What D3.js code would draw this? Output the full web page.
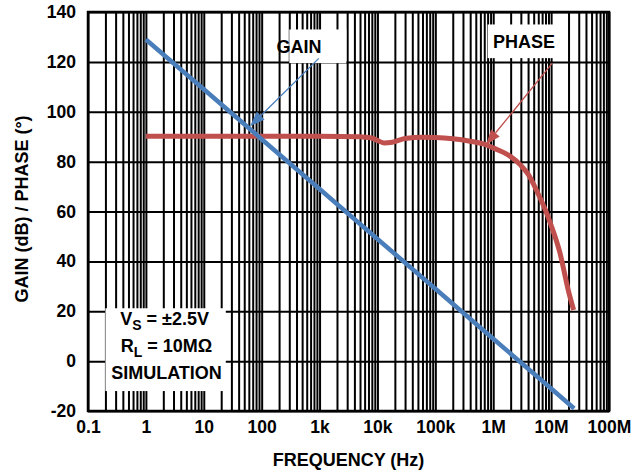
<!DOCTYPE html>
<html>
<head>
<meta charset="utf-8">
<script src="https://cdn.jsdelivr.net/npm/d3@7"></script>
<style>
  html, body { margin: 0; padding: 0; background: #fff; }
  svg { display: block; font-family: "Liberation Sans", Arial, sans-serif; font-weight: bold; }
</style>
</head>
<body>
<svg id="chart" width="644" height="470"></svg>
<script>
// gain curve (dB) vs frequency (Hz)
const gainFreq = [1, 10, 100, 1e3, 1e4, 1e5, 1e6, 1e7, 2.5e7];
const gainDb = [129, 109, 89, 69, 49, 29, 9, -11, -19];

// phase curve (deg) vs frequency (Hz)
const phaseFreq = [1, 10, 100, 1e3, 5e3, 8e3, 1e4, 1.3e4, 1.8e4, 3e4, 6e4, 1e5, 2e5, 4e5, 7e5,
  1e6, 1.5e6, 2e6, 3e6, 4e6, 6e6, 8e6, 1e7, 1.4e7, 2e7, 2.45e7];
const phaseDeg = [90.2, 90.2, 90.2, 90.2, 90, 89.5, 88.5, 87.5, 87.8, 89.3, 89.8, 89.7, 89.2, 88.2, 87,
  85.5, 83.7, 82, 78.5, 75, 67, 60.5, 54.5, 44, 28, 20.5];

const xTicks = [0.1, 1, 10, 100, 1e3, 1e4, 1e5, 1e6, 1e7, 1e8];
const xTickLabels = ['0.1', '1', '10', '100', '1k', '10k', '100k', '1M', '10M', '100M'];
const yTicks = [-20, 0, 20, 40, 60, 80, 100, 120, 140];
const yTickLabels = ['-20', '0', '20', '40', '60', '80', '100', '120', '140'];

const GAIN_BLUE = '#4a7ebb';
const PHASE_RED = '#c0504d';

const W = 644;
const H = 470;
const margin = { top: 12, right: 35, bottom: 59, left: 88 };
const innerW = W - margin.left - margin.right;
const innerH = H - margin.top - margin.bottom;

const svg = d3.select('#chart');
const g = svg.append('g').attr('transform', `translate(${margin.left},${margin.top})`);

const x = d3.scaleLog().domain([0.1, 1e8]).range([0, innerW]);
const y = d3.scaleLinear().domain([-20, 140]).range([innerH, 0]);

// every 1..9 per decade
const minor = [];
xTicks.slice(0, -1).forEach(d => {
  for (let k = 1; k <= 9; k++) minor.push(d * k);
});
minor.push(1e8);

// vertical grid
g.append('g')
  .attr('transform', `translate(0,${innerH})`)
  .call(d3.axisBottom(x).tickValues(minor).tickSize(-innerH).tickFormat(''))
  .call(a => a.select('.domain').remove())
  .call(a => a.selectAll('line').attr('stroke', '#000').attr('stroke-width', 2));

// horizontal grid
g.append('g')
  .call(d3.axisLeft(y).tickValues(yTicks).tickSize(-innerW).tickFormat(''))
  .call(a => a.select('.domain').remove())
  .call(a => a.selectAll('line').attr('stroke', '#000').attr('stroke-width', 2));

// white label boxes over grid
const boxes = [
  { f0: 0.2, f1: 24, v0: 21.2, v1: -12 },
  { f0: 300, f1: 2900, v0: 133, v1: 119.5 },
  { f0: 0.8e6, f1: 12e6, v0: 135, v1: 121.5 },
];
g.selectAll('rect.box').data(boxes).join('rect')
  .attr('class', 'box')
  .attr('x', d => x(d.f0))
  .attr('y', d => y(d.v0))
  .attr('width', d => x(d.f1) - x(d.f0))
  .attr('height', d => y(d.v1) - y(d.v0))
  .attr('fill', '#fff');

// frame
g.append('rect')
  .attr('width', innerW)
  .attr('height', innerH)
  .attr('fill', 'none')
  .attr('stroke', '#000')
  .attr('stroke-width', 2.5);

// axes labels
g.append('g')
  .attr('transform', `translate(0,${innerH})`)
  .call(d3.axisBottom(x).tickValues(xTicks).tickSize(0).tickPadding(9.6)
    .tickFormat((d, i) => xTickLabels[i]))
  .call(a => a.select('.domain').remove())
  .call(a => a.selectAll('text').attr('fill', '#000').attr('font-size', 17.5)
    .attr('font-family', null).attr('font-weight', 'bold'));

g.append('g')
  .call(d3.axisLeft(y).tickValues(yTicks).tickSize(0).tickPadding(12)
    .tickFormat((d, i) => yTickLabels[i]))
  .call(a => a.select('.domain').remove())
  .call(a => a.selectAll('text').attr('fill', '#000').attr('font-size', 17.5)
    .attr('font-family', null).attr('font-weight', 'bold'));

svg.append('text')
  .attr('x', margin.left + innerW / 2)
  .attr('y', 466)
  .attr('text-anchor', 'middle')
  .attr('font-size', 18)
  .text('FREQUENCY (Hz)');

svg.append('text')
  .attr('transform', 'translate(28,209) rotate(-90)')
  .attr('text-anchor', 'middle')
  .attr('font-size', 18)
  .text('GAIN (dB) / PHASE (°)');

// curves
const gainData = gainFreq.map((f, i) => ({ f, v: gainDb[i] }));
const phaseData = phaseFreq.map((f, i) => ({ f, v: phaseDeg[i] }));
const line = d3.line().x(d => x(d.f)).y(d => y(d.v));

g.append('path')
  .datum(phaseData)
  .attr('fill', 'none')
  .attr('stroke', PHASE_RED)
  .attr('stroke-width', 5)
  .attr('d', line.curve(d3.curveMonotoneX));

g.append('path')
  .datum(gainData)
  .attr('fill', 'none')
  .attr('stroke', GAIN_BLUE)
  .attr('stroke-width', 4.5)
  .attr('d', line.curve(d3.curveLinear));

// callouts
const callouts = [
  { text: 'GAIN', lf: 440, lv: 123.5, af: 970, av: 121.4, tf: 63, tv: 94.2, color: GAIN_BLUE },
  { text: 'PHASE', lf: 3.4e6, lv: 125.5, af: 10.5e6, av: 119.5, tf: 7.5e5, tv: 86.8, color: PHASE_RED },
];

callouts.forEach(c => {
  g.append('text')
    .attr('x', x(c.lf))
    .attr('y', y(c.lv))
    .attr('text-anchor', 'middle')
    .attr('font-size', 18)
    .text(c.text);

  const x0 = x(c.af), y0 = y(c.av), x1 = x(c.tf), y1 = y(c.tv);
  const ang = Math.atan2(y1 - y0, x1 - x0);
  const len = 15, half = 5.5;
  const bx = x1 - len * Math.cos(ang), by = y1 - len * Math.sin(ang);
  g.append('line')
    .attr('x1', x0).attr('y1', y0)
    .attr('x2', bx).attr('y2', by)
    .attr('stroke', c.color)
    .attr('stroke-width', 1.3);
  g.append('path')
    .attr('d', `M${x1},${y1}L${bx + half * Math.sin(ang)},${by - half * Math.cos(ang)}`
      + `L${bx - half * Math.sin(ang)},${by + half * Math.cos(ang)}Z`)
    .attr('fill', c.color);
});

// conditions note
const note = g.append('text')
  .attr('text-anchor', 'middle')
  .attr('font-size', 18);
const noteX = x(2.1);
note.append('tspan').attr('x', noteX).attr('y', y(14.3)).text('V')
  .append('tspan').attr('font-size', 14).attr('dy', 5).text('S');
note.append('tspan').attr('dy', -5).text(' = ±2.5V');
const note2 = g.append('text')
  .attr('text-anchor', 'middle')
  .attr('font-size', 18);
note2.append('tspan').attr('x', noteX + 2).attr('y', y(3.7)).text('R')
  .append('tspan').attr('font-size', 14).attr('dy', 5).text('L');
note2.append('tspan').attr('dy', -5).text(' = 10MΩ');
g.append('text')
  .attr('x', noteX + 2)
  .attr('y', y(-7.3))
  .attr('text-anchor', 'middle')
  .attr('font-size', 18)
  .text('SIMULATION');
</script>
</body>
</html>
